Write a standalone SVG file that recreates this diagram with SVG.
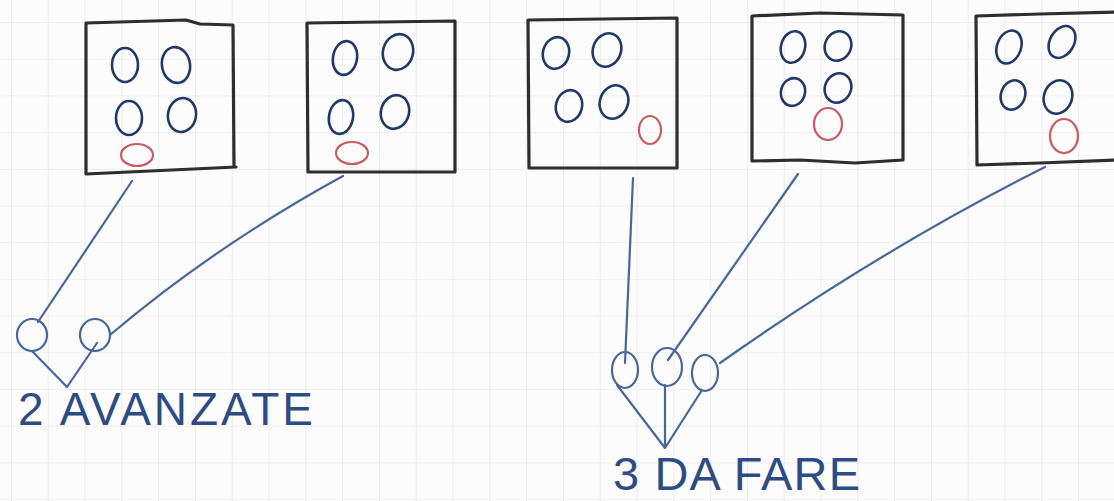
<svg xmlns="http://www.w3.org/2000/svg" width="1114" height="501" viewBox="0 0 1114 501">
<defs>
<pattern id="grid" x="11" y="22" width="36.8" height="36.7" patternUnits="userSpaceOnUse">
<path d="M0,0 H36.8 M0,0 V36.7" fill="none" stroke="#e4e4e4" stroke-width="1.2"/>
</pattern>
</defs>
<style>
.box{fill:none;stroke:#2e2e2e;stroke-width:3.2;stroke-linejoin:round;stroke-linecap:round}
.dot{fill:none;stroke:#1f3a68;stroke-width:2.6}
.red{fill:none;stroke:#c95a66;stroke-width:2.2}
.con{fill:none;stroke:#47679a;stroke-width:2.2;stroke-linecap:round;stroke-linejoin:round}
.sm{fill:none;stroke:#47679a;stroke-width:2.2}
.lbl{font-family:"Liberation Sans",Arial,sans-serif;fill:#2f4c82;font-weight:normal}
</style>
<rect width="1114" height="501" fill="#fcfcfc"/>
<rect width="1114" height="501" fill="url(#grid)"/>

<g id="connectors">
<path class="con" d="M132,181 L38,322"/>
<path class="con" d="M343,176 Q215,246 110,335"/>
<path class="con" d="M32,351 L67,387 L97,343"/>
<path class="con" d="M633,178 L625,363"/>
<path class="con" d="M798,174 L668,360"/>
<path class="con" d="M1045,167 Q880,250 720,363"/>
<path class="con" d="M617,385 L665,448 M665,385 L665,448 M702,390 L665,448"/>
</g>

<g id="box1">
<path class="box" d="M86,23 L186,20 L200,24 L233,25 L234,167 L236,167 L86,174 Z"/>
<ellipse class="dot" cx="125" cy="65" rx="13" ry="17"/>
<ellipse class="dot" cx="176" cy="65" rx="14" ry="18" transform="rotate(-10 176 65)"/>
<ellipse class="dot" cx="129" cy="118" rx="13" ry="17"/>
<ellipse class="dot" cx="182" cy="115" rx="14" ry="17" transform="rotate(10 182 115)"/>
<ellipse class="red" cx="137" cy="155" rx="16" ry="11"/>
</g>

<g id="box2">
<path class="box" d="M307,23 L455,21 L455,172 L308,172 Z"/>
<ellipse class="dot" cx="345" cy="58" rx="12" ry="17" transform="rotate(10 345 58)"/>
<ellipse class="dot" cx="398" cy="52" rx="15" ry="18" transform="rotate(15 398 52)"/>
<ellipse class="dot" cx="341" cy="117" rx="12" ry="17" transform="rotate(10 341 117)"/>
<ellipse class="dot" cx="395" cy="112" rx="14" ry="17" transform="rotate(15 395 112)"/>
<ellipse class="red" cx="352" cy="153" rx="16" ry="11"/>
</g>

<g id="box3">
<path class="box" d="M528,20 L677,18 L677,168 L529,168 Z"/>
<ellipse class="dot" cx="556" cy="53" rx="13" ry="16" transform="rotate(15 556 53)"/>
<ellipse class="dot" cx="607" cy="50" rx="14" ry="17" transform="rotate(20 607 50)"/>
<ellipse class="dot" cx="569" cy="106" rx="13" ry="16" transform="rotate(15 569 106)"/>
<ellipse class="dot" cx="614" cy="102" rx="14" ry="17" transform="rotate(20 614 102)"/>
<ellipse class="red" cx="650" cy="130" rx="11" ry="14"/>
</g>

<g id="box4">
<path class="box" d="M752,16 L820,13 L903,15 L903,160 L855,163 L800,160 L752,161 Z"/>
<ellipse class="dot" cx="793" cy="47" rx="12" ry="16" transform="rotate(15 793 47)"/>
<ellipse class="dot" cx="838" cy="46" rx="13" ry="15" transform="rotate(25 838 46)"/>
<ellipse class="dot" cx="793" cy="92" rx="12" ry="14" transform="rotate(15 793 92)"/>
<ellipse class="dot" cx="838" cy="88" rx="13" ry="15" transform="rotate(25 838 88)"/>
<ellipse class="red" cx="828" cy="124" rx="14" ry="16"/>
</g>

<g id="box5">
<path class="box" d="M1116,12 L1040,14 L976,16 L977,165 L1040,163 L1116,160"/>
<ellipse class="dot" cx="1009" cy="47" rx="12" ry="17" transform="rotate(20 1009 47)"/>
<ellipse class="dot" cx="1062" cy="42" rx="12" ry="17" transform="rotate(30 1062 42)"/>
<ellipse class="dot" cx="1013" cy="95" rx="12" ry="15" transform="rotate(20 1013 95)"/>
<ellipse class="dot" cx="1058" cy="97" rx="14" ry="17" transform="rotate(20 1058 97)"/>
<ellipse class="red" cx="1064" cy="136" rx="14" ry="17"/>
</g>

<g id="group-avanzate">
<ellipse class="sm" cx="32" cy="335" rx="15" ry="16"/>
<ellipse class="sm" cx="95" cy="335" rx="15" ry="16"/>
<text class="lbl" x="18" y="425" font-size="46" textLength="295" lengthAdjust="spacing">2 AVANZATE</text>
</g>

<g id="group-dafare">
<ellipse class="sm" cx="625" cy="370" rx="13" ry="18"/>
<ellipse class="sm" cx="667" cy="367" rx="15" ry="19"/>
<ellipse class="sm" cx="705" cy="373" rx="13" ry="18"/>
<text class="lbl" x="613" y="490" font-size="47" textLength="247" lengthAdjust="spacing">3 DA FARE</text>
</g>
</svg>
